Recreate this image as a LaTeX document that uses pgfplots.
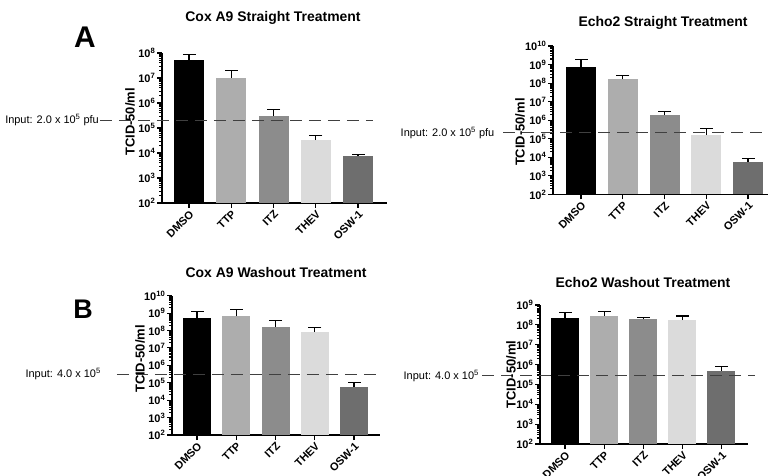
\documentclass[border=0pt]{standalone}
\usepackage{fontspec}
\setmainfont{Liberation Sans}
\usepackage{pgfplots}
\pgfplotsset{compat=1.18}
\definecolor{cTTP}{gray}{0.68}
\definecolor{cITZ}{gray}{0.55}
\definecolor{cTHEV}{gray}{0.86}
\definecolor{cOSW}{gray}{0.43}
% bar: x, value, error-bar top, colour, bar width
\newcommand{\pbar}[5]{%
  \addplot[ybar, bar width=#5, bar shift=0pt, fill=#4, draw=none] coordinates {(#1,#2)};
  \addplot[black, line width=1.1bp, mark=-, mark indices={2}, mark size=6.5bp,
    mark options={line width=1.1bp}] coordinates {(#1,#2) (#1,#3)};}
\tikzset{
  inputline/.style={black!75, line width=1.1bp, dash pattern=on 12bp off 7bp},
  inputlabel/.style={anchor=east, font=\fontsize{11}{11}\selectfont, inner sep=1bp},
}
\begin{document}
\begin{tikzpicture}[x=1bp,y=1bp]
\path[use as bounding box] (0,0) rectangle (769,-476);
\pgfplotsset{every axis/.append style={
    scale only axis, anchor=south west,
    axis x line*=bottom, axis y line*=left,
    axis line style={line width=1.2bp},
    tick style={line width=1.1bp, black},
    tick align=outside,
    major tick length=5bp,
    xtick={0,1,2,3,4},
    xticklabels={DMSO,TTP,ITZ,THEV,OSW-1},
    xticklabel style={rotate=45, anchor=north east, font=\bfseries\fontsize{11}{11}\selectfont, inner sep=1bp},
    yticklabel style={font=\bfseries\fontsize{11}{11}\selectfont, inner sep=1.5bp},
    ylabel={TCID-50/ml},
    ylabel style={font=\bfseries\fontsize{13}{13}\selectfont},
    clip=false,
    minor y tick num=0,
}}

% ---- A1: Cox A9 Straight
\begin{axis}[ymode=log, log origin y=infty, at={(162bp,-203bp)}, width=225bp, height=150bp,
  xmin=-0.639, xmax=4.686, ymin=1e2, ymax=1e8,
  ytick={1e2,1e3,1e4,1e5,1e6,1e7,1e8},
  yticklabels={10\textsuperscript{2},10\textsuperscript{3},10\textsuperscript{4},10\textsuperscript{5},10\textsuperscript{6},10\textsuperscript{7},10\textsuperscript{8}},
  ylabel style={at={(axis description cs:0,0.54)}, anchor=center, yshift=32bp}]
\pbar{0}{5.2e7}{9.0e7}{black}{30bp}
\pbar{1}{1.0e7}{2.0e7}{cTTP}{30bp}
\pbar{2}{3.0e5}{5.7e5}{cITZ}{30bp}
\pbar{3}{3.3e4}{5.2e4}{cTHEV}{30bp}
\pbar{4}{7.6e3}{9.0e3}{cOSW}{30bp}
\addplot[inputline] coordinates {(-2.107,2e5) (4.355,2e5)};
\node[inputlabel] at (axis cs:-2.107,2e5) {Input: 2.0 x 10\textsuperscript{5} pfu};
\end{axis}

% ---- A2: Echo2 Straight
\begin{axis}[ymode=log, log origin y=infty, at={(553bp,-194.5bp)}, width=215bp, height=148.5bp,
  xmin=-0.671, xmax=4.479, ymin=1e2, ymax=1e10,
  ytick={1e2,1e3,1e4,1e5,1e6,1e7,1e8,1e9,1e10},
  yticklabels={10\textsuperscript{2},10\textsuperscript{3},10\textsuperscript{4},10\textsuperscript{5},10\textsuperscript{6},10\textsuperscript{7},10\textsuperscript{8},10\textsuperscript{9},10\textsuperscript{10}},
  ylabel style={at={(axis description cs:0,0.42)}, anchor=center, yshift=33bp}]
\pbar{0}{7.8e8}{1.85e9}{black}{30bp}
\pbar{1}{1.6e8}{2.6e8}{cTTP}{30bp}
\pbar{2}{1.9e6}{3.0e6}{cITZ}{30bp}
\pbar{3}{1.6e5}{3.5e5}{cTHEV}{30bp}
\pbar{4}{5.8e3}{8.4e3}{cOSW}{30bp}
\addplot[inputline] coordinates {(-1.868,2.1e5) (4.335,2.1e5)};
\node[inputlabel] at (axis cs:-2.05,2.1e5) {Input: 2.0 x 10\textsuperscript{5} pfu};
\end{axis}

% ---- B1: Cox A9 Washout
\begin{axis}[ymode=log, log origin y=infty, at={(172bp,-435bp)}, width=208bp, height=139.3bp,
  xmin=-0.637, xmax=4.662, ymin=1e2, ymax=1e10,
  ytick={1e2,1e3,1e4,1e5,1e6,1e7,1e8,1e9,1e10},
  yticklabels={10\textsuperscript{2},10\textsuperscript{3},10\textsuperscript{4},10\textsuperscript{5},10\textsuperscript{6},10\textsuperscript{7},10\textsuperscript{8},10\textsuperscript{9},10\textsuperscript{10}},
  ylabel style={at={(axis description cs:0,0.545)}, anchor=center, yshift=32bp}]
\pbar{0}{5.4e8}{1.2e9}{black}{28bp}
\pbar{1}{6.6e8}{1.7e9}{cTTP}{28bp}
\pbar{2}{1.7e8}{3.7e8}{cITZ}{28bp}
\pbar{3}{8.0e7}{1.5e8}{cTHEV}{28bp}
\pbar{4}{5.8e4}{1.0e5}{cOSW}{28bp}
\addplot[inputline] coordinates {(-2.04,3.1e5) (4.66,3.1e5)};
\node[inputlabel] at (axis cs:-2.42,3.1e5) {Input: 4.0 x 10\textsuperscript{5}};
\end{axis}

% ---- B2: Echo2 Washout
\begin{axis}[ymode=log, log origin y=infty, at={(540bp,-444bp)}, width=208bp, height=139bp,
  xmin=-0.639, xmax=4.678, ymin=1e2, ymax=1e9,
  ytick={1e2,1e3,1e4,1e5,1e6,1e7,1e8,1e9},
  yticklabels={10\textsuperscript{2},10\textsuperscript{3},10\textsuperscript{4},10\textsuperscript{5},10\textsuperscript{6},10\textsuperscript{7},10\textsuperscript{8},10\textsuperscript{9}},
  ylabel style={at={(axis description cs:0,0.50)}, anchor=center, yshift=29bp}]
\pbar{0}{2.3e8}{4.1e8}{black}{28bp}
\pbar{1}{2.8e8}{4.6e8}{cTTP}{28bp}
\pbar{2}{1.9e8}{2.3e8}{cITZ}{28bp}
\pbar{3}{1.75e8}{2.8e8}{cTHEV}{28bp}
\pbar{4}{4.9e5}{7.8e5}{cOSW}{28bp}
\addplot[inputline] coordinates {(-2.12,2.8e5) (4.86,2.8e5)};
\node[inputlabel] at (axis cs:-2.17,2.8e5) {Input: 4.0 x 10\textsuperscript{5}};
\end{axis}

% titles and panel letters
\node[font=\bfseries\fontsize{14}{14}\selectfont] at (273,-18) {Cox A9 Straight Treatment};
\node[font=\bfseries\fontsize{14}{14}\selectfont] at (663,-23) {Echo2 Straight Treatment};
\node[font=\bfseries\fontsize{14}{14}\selectfont] at (276,-273) {Cox A9 Washout Treatment};
\node[font=\bfseries\fontsize{14}{14}\selectfont] at (643,-283) {Echo2 Washout Treatment};
\node[font=\bfseries\fontsize{30}{30}\selectfont, inner sep=0pt] at (85,-37) {A};
\node[font=\bfseries\fontsize{27}{27}\selectfont, inner sep=0pt] at (83,-309) {B};
\end{tikzpicture}
\end{document}
